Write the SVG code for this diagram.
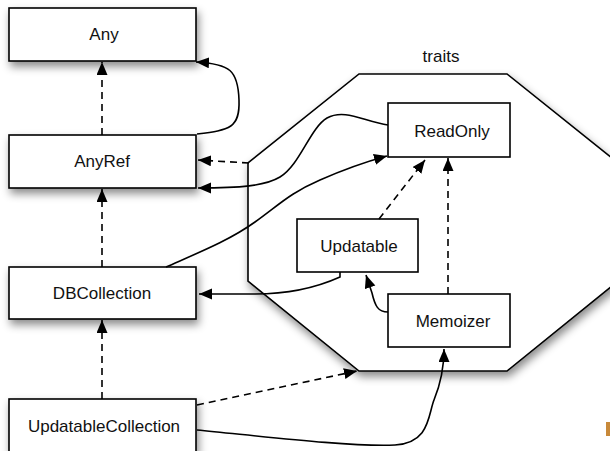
<svg xmlns="http://www.w3.org/2000/svg" width="610" height="451" viewBox="0 0 610 451">
<style>
.box{fill:#fff;stroke:#000;stroke-width:1.6}
.lbl{font-family:"Liberation Sans",Arial,sans-serif;font-size:17px;fill:#111;text-anchor:middle}
.solid{fill:none;stroke:#000;stroke-width:1.6;marker-end:url(#ah)}
.dash{fill:none;stroke:#000;stroke-width:1.6;stroke-dasharray:7,5;marker-end:url(#ah)}
</style>
<defs>
<filter id="sh" x="-20%" y="-20%" width="150%" height="160%">
<feDropShadow dx="2" dy="5" stdDeviation="4" flood-color="#000" flood-opacity="0.45"/>
</filter>
<marker id="ah" markerUnits="userSpaceOnUse" markerWidth="14" markerHeight="12" refX="13" refY="5.5" orient="auto">
<path d="M0,0 L13,5.5 L0,11 z" fill="#000"/>
</marker>
</defs>
<rect width="610" height="451" fill="#fff"/>
<g id="traits">
<polygon class="box" filter="url(#sh)" points="359,74 507,74 618,163 618,281 507,371 359,371 248,281 248,163"/>
<text class="lbl" x="441" y="62">traits</text>
</g>
<g id="Any">
<rect class="box" filter="url(#sh)" x="9" y="8" width="187" height="53"/>
<text class="lbl" x="104" y="40">Any</text>
</g>
<g id="AnyRef">
<rect class="box" filter="url(#sh)" x="9" y="135" width="187" height="53"/>
<text class="lbl" x="102" y="167">AnyRef</text>
</g>
<g id="DBCollection">
<rect class="box" filter="url(#sh)" x="9" y="267" width="187" height="52"/>
<text class="lbl" x="102" y="299">DBCollection</text>
</g>
<g id="UpdatableCollection">
<rect class="box" filter="url(#sh)" x="9" y="399" width="187" height="53"/>
<text class="lbl" x="104" y="432">UpdatableCollection</text>
</g>
<g id="ReadOnly">
<rect class="box" x="388" y="103" width="122" height="54"/>
<text class="lbl" x="452" y="137">ReadOnly</text>
</g>
<g id="Updatable">
<rect class="box" x="297" y="219" width="121" height="53"/>
<text class="lbl" x="359" y="252">Updatable</text>
</g>
<g id="Memoizer">
<rect class="box" x="388" y="294" width="122" height="53"/>
<text class="lbl" x="453" y="327">Memoizer</text>
</g>
<g id="connectors">
<path class="dash" d="M102,135 L102,62"/>
<path class="dash" d="M102,267 L102,189"/>
<path class="dash" d="M102,399 L102,320"/>
<path class="solid" d="M197,134 C230,130 240,128 239,100 C238,70 230,64 196,62"/>
<path class="dash" d="M249,163 L198,160"/>
<path class="solid" d="M388,125 C365,122 345,108 327,118 C310,128 300,165 280,177 C265,186 240,188 198,188"/>
<path class="solid" d="M166,267 C200,252 230,240 255,222 C280,204 290,193 320,180 C345,169 365,162 387,156"/>
<path class="solid" d="M340,272 L340,277 C320,286 290,294 255,294 L199,294"/>
<path class="solid" d="M388,312 C378,312 375,306 372,293 L366,275"/>
<path class="dash" d="M448,294 L448,158"/>
<path class="dash" d="M379,219 L425,160"/>
<path class="dash" d="M197,405 L357,371"/>
<path class="solid" d="M197,430 C260,436 350,447 395,445 C430,443 428,415 434,400 C441,383 444,366 444,349"/>
</g>
<rect x="606" y="422" width="4" height="14" fill="#c8893a"/>
</svg>
